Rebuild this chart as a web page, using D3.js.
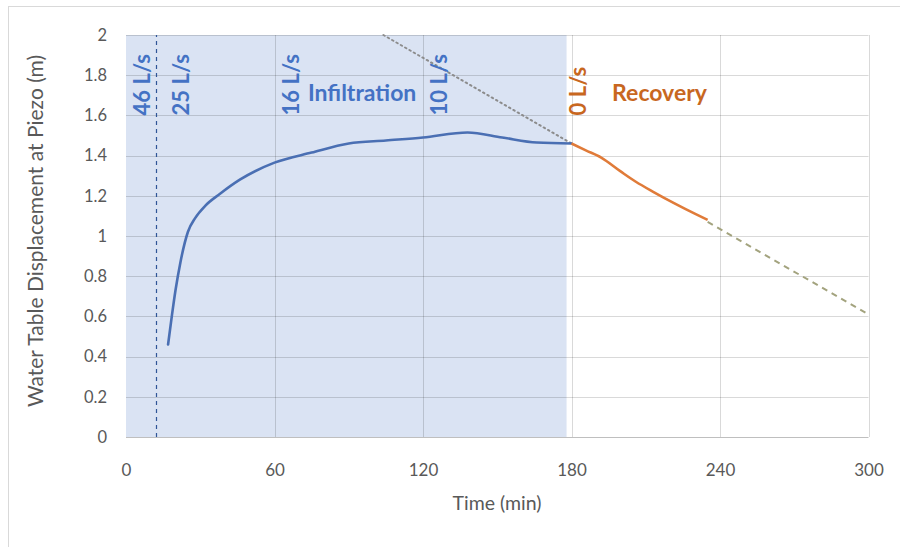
<!DOCTYPE html>
<html>
<head>
<meta charset="utf-8">
<script src="https://cdn.jsdelivr.net/npm/d3@7"></script>
<style>
  html, body { margin: 0; padding: 0; background: #fff; }
  svg { display: block; }
  text { font-family: Lato, "Open Sans", sans-serif; }
</style>
</head>
<body>
<svg id="chart" width="900" height="547"></svg>
<script>
// Infiltration phase (pumping in), time in minutes and displacement in metres
const infTime  = [17, 18.5, 20, 22, 25, 28, 32, 38, 46, 60, 75, 90, 105, 120, 138, 152, 166, 180];
const infValue = [0.46, 0.60, 0.73, 0.87, 1.02, 1.09, 1.15, 1.21, 1.28, 1.365, 1.415, 1.46, 1.475, 1.49, 1.515, 1.49, 1.465, 1.46];

// Recovery phase after the inflow stops
const recTime  = [180, 186, 192, 200, 206, 213, 222, 230, 235];
const recValue = [1.46, 1.425, 1.39, 1.32, 1.27, 1.22, 1.16, 1.11, 1.08];

// Linear recovery trend, back-projected and extrapolated
const trendBackTime  = [104, 180];
const trendBackValue = [2.0, 1.46];
const trendFwdTime   = [235, 300];
const trendFwdValue  = [1.07, 0.61];

// Flow-rate step annotations
const rateLabels = ["46 L/s", "25 L/s", "16 L/s", "10 L/s", "0 L/s"];
const rateTimes  = [6.5, 22.2, 66.7, 126.5, 182.6];

// Infiltration window and the start-of-step marker
const infWindow = [0, 178];
const stepMarkerTime = 12;

// Axis ticks
const xTicks = [0, 60, 120, 180, 240, 300];
const yTicks = [0, 0.2, 0.4, 0.6, 0.8, 1, 1.2, 1.4, 1.6, 1.8, 2];

const blue = "#4472C4", lineBlue = "#4a6fb3", orange = "#C8671F", lineOrange = "#E07B39";

const svg = d3.select("#chart");

// Chart frame
svg.append("rect").attr("x", 8.5).attr("y", 6.5).attr("width", 1000).attr("height", 1000)
  .attr("fill", "#fff").attr("stroke", "#d9d9d9");

const x = d3.scaleLinear().domain([0, 300]).range([126, 868.5]);
const y = d3.scaleLinear().domain([0, 2]).range([437, 35]);

// Shaded infiltration window
svg.append("rect")
  .attr("x", x(infWindow[0])).attr("y", y(2))
  .attr("width", x(infWindow[1]) - x(infWindow[0]))
  .attr("height", y(0) - y(2))
  .attr("fill", "#dae3f3");

// Gridlines
svg.append("g").selectAll("line").data(yTicks.slice(1)).join("line")
  .attr("x1", x(0)).attr("x2", x(300))
  .attr("y1", d => Math.round(y(d)) + 0.5).attr("y2", d => Math.round(y(d)) + 0.5)
  .attr("stroke", "rgba(0,0,0,0.15)");
svg.append("g").selectAll("line").data(xTicks.slice(1)).join("line")
  .attr("x1", d => Math.round(x(d)) + 0.5).attr("x2", d => Math.round(x(d)) + 0.5)
  .attr("y1", y(0)).attr("y2", y(2))
  .attr("stroke", "rgba(0,0,0,0.15)");

// Horizontal axis line
svg.append("line").attr("x1", x(0)).attr("x2", x(300))
  .attr("y1", Math.round(y(0)) + 0.5).attr("y2", Math.round(y(0)) + 0.5)
  .attr("stroke", "#bfbfbf");

// Axis tick labels
const xAxis = d3.axisBottom(x).tickValues(xTicks).tickSize(0).tickPadding(0);
const gx = svg.append("g").attr("transform", `translate(0,${y(0)})`).call(xAxis);
gx.select(".domain").remove();
gx.selectAll("text").attr("dy", null).attr("y", 39).attr("fill", "#595959")
  .attr("font-size", 17).attr("font-family", "Lato, sans-serif");

const yAxis = d3.axisLeft(y).tickValues(yTicks).tickSize(0).tickPadding(0)
  .tickFormat(d => d3.format("")(+d.toFixed(1)));
const gy = svg.append("g").attr("transform", `translate(107,0)`).call(yAxis);
gy.select(".domain").remove();
gy.selectAll("text").attr("fill", "#595959").attr("font-size", 16.5)
  .attr("font-family", "Lato, sans-serif");

// Axis titles
svg.append("text").attr("x", 497).attr("y", 510).attr("text-anchor", "middle")
  .attr("fill", "#595959").attr("font-size", 19.5).text("Time (min)");
svg.append("text").attr("transform", `translate(43,${y(1) - 5}) rotate(-90)`)
  .attr("text-anchor", "middle").attr("fill", "#595959").attr("font-size", 21)
  .text("Water Table Displacement at Piezo (m)");

// Step marker (dashed vertical)
svg.append("line")
  .attr("x1", Math.round(x(stepMarkerTime)) + 0.5).attr("x2", Math.round(x(stepMarkerTime)) + 0.5)
  .attr("y1", y(0)).attr("y2", y(2))
  .attr("stroke", "#2f5597").attr("stroke-width", 1.2).attr("stroke-dasharray", "4,4");

const line = d3.line().x(d => x(d[0])).y(d => y(d[1]));
const smooth = d3.line().x(d => x(d[0])).y(d => y(d[1])).curve(d3.curveMonotoneX);

// Trend lines
svg.append("path").datum(d3.zip(trendBackTime, trendBackValue)).attr("d", line)
  .attr("fill", "none").attr("stroke", "#8c8c8c").attr("stroke-width", 2)
  .attr("stroke-dasharray", "1.5,3.5").attr("stroke-linecap", "round");
svg.append("path").datum(d3.zip(trendFwdTime, trendFwdValue)).attr("d", line)
  .attr("fill", "none").attr("stroke", "#a3a37e").attr("stroke-width", 2)
  .attr("stroke-dasharray", "6,5");

// Measured series
svg.append("path").datum(d3.zip(infTime, infValue)).attr("d", smooth)
  .attr("fill", "none").attr("stroke", lineBlue).attr("stroke-width", 2.6)
  .attr("stroke-linejoin", "round").attr("stroke-linecap", "round");
svg.append("path").datum(d3.zip(recTime, recValue)).attr("d", smooth)
  .attr("fill", "none").attr("stroke", lineOrange).attr("stroke-width", 2.6)
  .attr("stroke-linejoin", "round");

// Flow-rate labels (rotated)
svg.append("g").selectAll("text").data(d3.zip(rateLabels, rateTimes)).join("text")
  .attr("transform", d => `translate(${x(d[1]) + 8},${y(1.6)}) rotate(-90)`)
  .attr("fill", (d, i) => i === rateLabels.length - 1 ? orange : blue)
  .attr("font-size", 22).attr("font-weight", "bold")
  .text(d => d[0]);

// Phase labels
svg.append("text").attr("x", x(73.5)).attr("y", y(1.67))
  .attr("fill", blue).attr("font-size", 23).attr("font-weight", "bold").text("Infiltration");
svg.append("text").attr("x", x(196.4)).attr("y", y(1.67))
  .attr("fill", orange).attr("font-size", 23).attr("font-weight", "bold").text("Recovery");
</script>
</body>
</html>
